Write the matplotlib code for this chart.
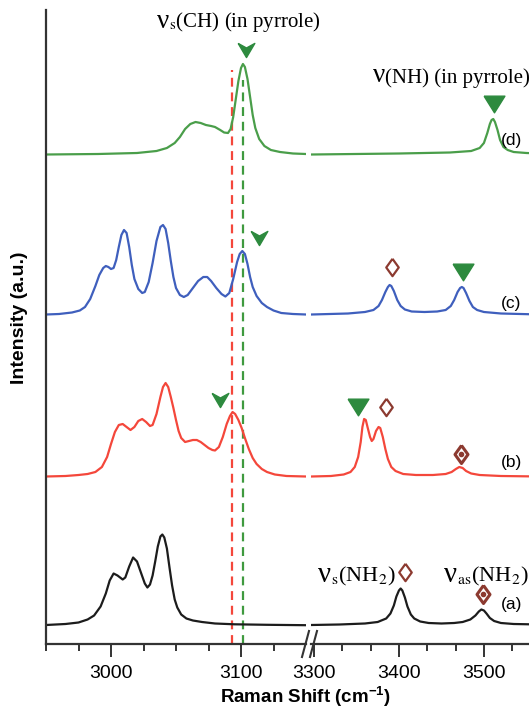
import matplotlib.pyplot as plt
import numpy as np
from matplotlib.path import Path
from matplotlib.lines import Line2D

plt.rcParams['font.family'] = ['Liberation Sans', 'DejaVu Sans']
plt.rcParams['mathtext.fontset'] = 'custom'
plt.rcParams['mathtext.rm'] = 'Liberation Sans'
plt.rcParams['mathtext.bf'] = 'Liberation Sans:bold'

# baselines of the stacked spectra (a), (b), (c), (d)
offsets = [18.5, 167, 329, 489]
colors = ['#1c1c1c', '#f4473b', '#3f5fbd', '#4a9e4a']
labels = ['(a)', '(b)', '(c)', '(d)']

# ---- left window 2950-3150 cm-1 ----
a_lx = [2950, 2965, 2975, 2982, 2987, 2992, 2996, 2999, 3002, 3005, 3009, 3011, 3014, 3017, 3020,
        3023, 3026, 3028, 3030, 3032, 3034, 3036, 3038, 3039.5, 3041, 3043, 3045, 3047, 3049,
        3051, 3054, 3058, 3063, 3070, 3080, 3095, 3120, 3150]
a_ly = [0.5, 1.5, 3, 6, 10, 19, 32, 45, 52, 50, 46, 48, 59, 68, 64,
        53, 42, 38, 41, 50, 64, 79, 89, 91, 88, 77, 58, 40, 26,
        18, 11, 7, 5, 3.5, 2, 1.2, 0.7, 0.3]

b_lx = [2950, 2965, 2975, 2982, 2988, 2993, 2997, 3000, 3003, 3006, 3009, 3012, 3015, 3018, 3021,
        3024, 3027, 3030, 3032, 3035, 3038, 3040, 3042, 3044, 3046, 3048, 3050, 3052, 3054, 3057,
        3060, 3063, 3066, 3069, 3072, 3075, 3078, 3080, 3083, 3086, 3089, 3091.5, 3093.5, 3095.5,
        3098, 3100.5, 3103, 3106, 3109, 3112, 3116, 3120, 3126, 3135, 3150]
b_ly = [0.5, 1, 2, 3, 5, 10, 20, 33, 45, 52, 53, 50, 47, 50, 56,
        58, 55, 51, 52, 63, 80, 90, 94, 90, 80, 69, 57, 46, 39, 35,
        36, 37, 37, 35, 32, 29, 27, 26.5, 30, 40, 53, 61, 65, 63,
        57, 49, 39, 28, 19, 13, 8, 5, 2.5, 1, 0.5]

c_lx = [2950, 2960, 2970, 2976, 2980, 2984, 2988, 2991, 2994, 2996, 2998, 3000, 3002, 3004, 3006,
        3008, 3010, 3012, 3014, 3016, 3018, 3021, 3024, 3026, 3029, 3032, 3035, 3038, 3040, 3042,
        3044, 3046, 3048, 3050, 3053, 3056, 3059, 3063, 3067, 3071, 3074, 3077, 3081, 3085, 3088,
        3091, 3094, 3097, 3099, 3101, 3103, 3105, 3107, 3109, 3112, 3116, 3120, 3125, 3131, 3140, 3150]
c_ly = [0.5, 1, 2.5, 4.5, 8, 16, 29, 40, 47, 49, 48, 46, 47, 55, 68,
        80, 85, 82, 68, 50, 36, 26, 22, 23, 33, 52, 74, 88, 90, 86,
        72, 54, 38, 27, 20, 18, 20, 27, 34, 38, 38, 34, 27, 21, 18.5,
        22, 36, 53, 61, 64, 61, 51, 38, 28, 19, 12, 8, 4.5, 2, 1, 0.5]

d_lx = [2950, 2990, 3020, 3035, 3043, 3049, 3053, 3057, 3061, 3065, 3069, 3073, 3077, 3080, 3084,
        3087, 3090, 3092, 3094, 3096, 3098, 3100, 3101.5, 3103, 3105, 3107, 3109, 3111, 3114, 3118,
        3123, 3130, 3140, 3150]
d_ly = [0.5, 1, 2, 4, 7, 12, 18, 26, 31, 33, 32, 30, 29, 28, 25,
        22.5, 22, 26, 38, 56, 74, 87, 91, 88, 76, 58, 40, 27, 16, 9,
        5, 3, 1.5, 1]

# ---- right window 3300-3560 cm-1 ----
a_rx = [3297, 3330, 3360, 3375, 3385, 3390, 3394, 3397, 3400, 3402, 3404, 3407, 3410, 3414, 3418,
        3425, 3435, 3450, 3465, 3475, 3484, 3490, 3494, 3497, 3500, 3503, 3507, 3512, 3520, 3535, 3566]
a_ry = [0.5, 1, 2, 3.5, 7, 12, 20, 29, 35, 37, 35, 28, 19, 11, 7,
        4, 2.5, 2, 2.5, 3.5, 6, 10, 14, 16, 15, 12, 7.5, 4.5, 2.5, 1.5, 1]

b_rx = [3297, 3320, 3335, 3343, 3348, 3352, 3355, 3357, 3359, 3361, 3363, 3366, 3368, 3370, 3373,
        3376, 3378, 3381, 3384, 3387, 3391, 3396, 3405, 3420, 3440, 3455, 3462, 3467, 3471, 3475,
        3479, 3485, 3495, 3520, 3566]
b_ry = [0.5, 1, 2.5, 5, 10, 20, 35, 50, 58, 57, 50, 40, 36, 38, 46,
        50, 49, 40, 28, 18, 10, 6, 3, 2, 2, 3, 5, 8, 10, 9,
        6, 3.5, 2, 1, 0.5]

c_rx = [3297, 3340, 3360, 3370, 3376, 3380, 3384, 3387, 3389, 3391, 3394, 3398, 3402, 3407, 3415,
        3430, 3445, 3455, 3461, 3465, 3469, 3472, 3474, 3476, 3479, 3483, 3487, 3492, 3500, 3520, 3566]
c_ry = [0.5, 1.5, 3, 5, 9, 15, 23, 28, 30, 29, 24, 15, 9, 5.5, 3.5,
        3, 3.5, 5, 9, 15, 23, 27, 28, 27, 22, 14, 8, 5, 3, 1.5, 0.5]

d_rx = [3297, 3400, 3460, 3485, 3495, 3500, 3504, 3507, 3509, 3511, 3513, 3516, 3519, 3523, 3528,
        3535, 3550, 3566]
d_ry = [0.5, 1.5, 2.5, 4, 7, 12, 22, 31, 35, 36, 33, 25, 15, 8, 5,
        3, 2, 1.5]

left_x = [a_lx, b_lx, c_lx, d_lx]
left_y = [a_ly, b_ly, c_ly, d_ly]
right_x = [a_rx, b_rx, c_rx, d_rx]
right_y = [a_ry, b_ry, c_ry, d_ry]

# reference lines (cm-1) and their top ends
dash_x = [3093, 3101.5]
dash_top = [574, 564]
dash_col = ['#f4473b', '#3f9a3f']

# marker positions (cm-1, height in axis units)
arrow_x = [3103.5, 3113.5, 3084]
arrow_y = [594, 406, 244]
tri_x = [3512, 3475, 3352]
tri_y = [540, 372, 237]
dia_x = [3392, 3385, 3407]
dia_y = [377, 237, 72]
dot_x = [3473, 3499]
dot_y = [190, 50]

W, H = 529, 711
fig = plt.figure(figsize=(W / 100, H / 100), dpi=100)


def fx(px):
    return px / W


def fy(py):
    return 1 - py / H


ax1 = fig.add_axes([fx(46), fy(644), (306 - 46) / W, 634 / H])
ax2 = fig.add_axes([fx(311), fy(644), (540 - 311) / W, 634 / H])
ax1.set_xlim(2950, 3150)
ax2.set_xlim(3296.5, 3566)
for ax in (ax1, ax2):
    ax.set_ylim(0, 634)
    ax.set_yticks([])
    for s in ('top', 'right'):
        ax.spines[s].set_visible(False)
    ax.spines['bottom'].set_linewidth(1.6)
    ax.spines['bottom'].set_color('#333333')
    ax.tick_params(axis='x', which='major', direction='out', length=9, width=1.4,
                   labelsize=14, pad=6, color='#333333')
    ax.tick_params(axis='x', which='minor', direction='out', length=5, width=1.4, color='#333333')
    ax.patch.set_alpha(0)
ax1.spines['left'].set_linewidth(1.6)
ax1.spines['left'].set_color('#333333')
ax2.spines['left'].set_visible(False)

ax1.set_xticks([3000, 3100])
ax1.set_xticks([2950, 2975, 3025, 3050, 3075, 3125], minor=True)
ax2.set_xticks([3300, 3400, 3500])
ax2.set_xticks([3333.3, 3366.7, 3433.3, 3466.7, 3533.3], minor=True)

for i in range(4):
    ax1.plot(left_x[i], np.array(left_y[i]) + offsets[i], color=colors[i], lw=1.6)
    ax2.plot(right_x[i], np.array(right_y[i]) + offsets[i], color=colors[i], lw=1.6)

for x, top, c in zip(dash_x, dash_top, dash_col):
    ax1.plot([x, x], [0, top], color=c, lw=1.6, ls=(0, (4, 2.6)), zorder=1)

arrow = Path([(-1, 0.85), (0, 0.3), (1, 0.85), (0, -0.85), (-1, 0.85)])
tri = Path([(-1, 0.8), (1, 0.8), (0, -0.8), (-1, 0.8)])
dia = Path([(0, 1), (0.72, 0), (0, -1), (-0.72, 0), (0, 1)])
green_m = '#2d8a3e'
brown = '#8c3a30'
ax1.plot(arrow_x, arrow_y, ls='none', marker=arrow, ms=12, color=green_m, mec=green_m, zorder=5)
ax2.plot(tri_x, tri_y, ls='none', marker=tri, ms=15, color=green_m, mec=green_m, zorder=5)
ax2.plot(dia_x, dia_y, ls='none', marker=dia, ms=12.5, mfc='white', mec=brown, mew=1.6, zorder=5)
ax2.plot(dot_x, dot_y, ls='none', marker=dia, ms=13, mfc='white', mec=brown, mew=2.2, zorder=5)
ax2.plot(dot_x, dot_y, ls='none', marker='o', ms=3, color=brown, zorder=6)

# break marks on the x axis
for x0 in (302, 310):
    fig.add_artist(Line2D([fx(x0), fx(x0 + 7)], [fy(657), fy(631)], color='#333333', lw=1.5))

# curve labels
label_y = [605, 463, 304, 140]
for lab, ly in zip(labels, label_y):
    fig.text(fx(501), fy(ly), lab, fontsize=12.5, va='center', ha='left')

serif = ['Liberation Serif', 'DejaVu Serif']


def mode_label(px, py, rest, size):
    # big Greek nu followed by the rest of the assignment
    nu = fig.text(fx(px), fy(py), 'ν', family=serif, fontsize=size * 1.3,
                  ha='left', va='bottom')
    ax1.annotate(rest, xy=(1, 0), xycoords=nu, ha='left', va='bottom',
                 family=serif, math_fontfamily='stix', fontsize=size,
                 annotation_clip=False)


mode_label(157, 34, '$_\\mathrm{s}$(CH) (in pyrrole)', 15)
mode_label(373, 88, '(NH) (in pyrrole)', 15)
mode_label(318, 588, '$_\\mathrm{s}$(NH$_2$)', 16)
mode_label(444, 588, '$_\\mathrm{as}$(NH$_2$)', 16)

fig.text(fx(305), fy(697), r'Raman Shift (cm$^{\mathbf{-1}}$)', fontsize=13.5,
         fontweight='bold', ha='center', va='center')
fig.text(fx(20), fy(318), 'Intensity (a.u.)', fontsize=14, fontweight='bold',
         rotation=90, ha='center', va='center')

fig.savefig('out.png', dpi=100)
